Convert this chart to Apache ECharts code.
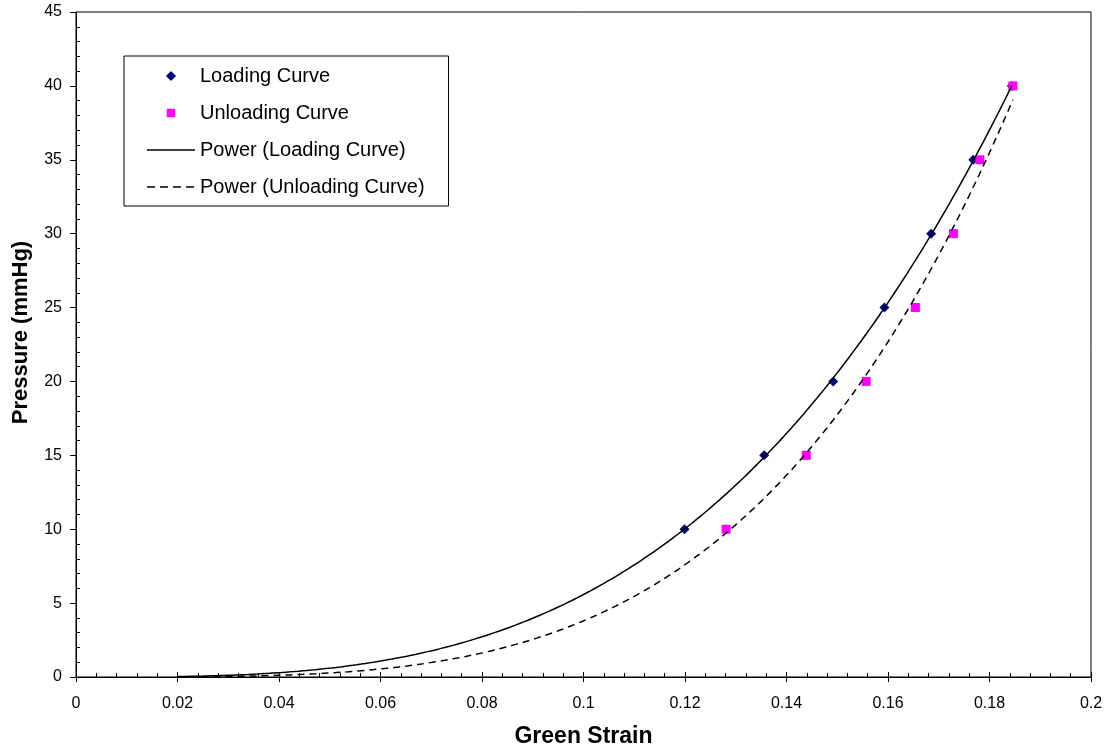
<!DOCTYPE html>
<html>
<head>
<meta charset="utf-8">
<script src="https://cdn.jsdelivr.net/npm/echarts@6/dist/echarts.min.js"></script>
<style>html,body{margin:0;padding:0;background:#fff}#chart{width:1107px;height:748px}</style>
</head>
<body>
<div id="chart"></div>
<script>
// ---- data ----
var loadingStrain = [0.1199, 0.1356, 0.1492, 0.1593, 0.1685, 0.1768, 0.1844];
var loadingPressure = [10, 15, 20, 25, 30, 35, 40];
var unloadingStrain = [0.1281, 0.1439, 0.1557, 0.1654, 0.1729, 0.1781, 0.1846];
var unloadingPressure = [10, 15, 20, 25, 30, 35, 40];
var seriesNames = ['Loading Curve', 'Unloading Curve', 'Power (Loading Curve)', 'Power (Unloading Curve)'];
var xTitle = 'Green Strain';
var yTitle = 'Pressure (mmHg)';
var trendStart = 0.02; // trendlines are drawn back to this strain

// power regression (y = a*x^b), least squares on logs, as the trendline does
function powerFit(xs, ys) {
  var n = xs.length, sx = 0, sy = 0, sxx = 0, sxy = 0;
  for (var i = 0; i < n; i++) {
    var lx = Math.log(xs[i]), ly = Math.log(ys[i]);
    sx += lx; sy += ly; sxx += lx * lx; sxy += lx * ly;
  }
  var b = (n * sxy - sx * sy) / (n * sxx - sx * sx);
  var a = Math.exp((sy - b * sx) / n);
  return { a: a, b: b };
}
function trendPoints(xs, ys) {
  var f = powerFit(xs, ys);
  var xmax = Math.max.apply(null, xs);
  var pts = [];
  var steps = 200;
  for (var i = 0; i <= steps; i++) {
    var x = trendStart + (xmax - trendStart) * i / steps;
    pts.push([x, f.a * Math.pow(x, f.b)]);
  }
  return pts;
}
function pairs(xs, ys) { return xs.map(function (x, i) { return [x, ys[i]]; }); }

var FONT = 'Arial, "Liberation Sans", sans-serif';
var chart = echarts.init(document.getElementById('chart'), null, { renderer: 'canvas' });

var xBase = { type: 'value', min: 0, max: 0.2, interval: 0.02, gridIndex: 0 };
var yBase = { type: 'value', min: 0, max: 45, interval: 5, gridIndex: 0 };

chart.setOption({
  animation: false,
  backgroundColor: '#fff',
  grid: { left: 76, top: 12, width: 1015, height: 665, containLabel: false, outerBoundsMode: 'none',
          show: true, borderColor: '#000', borderWidth: 1, backgroundColor: 'transparent' },
  legend: {
    orient: 'vertical', left: 124, top: 56,
    padding: [10, 24, 9, 23], itemGap: 17, itemWidth: 48, itemHeight: 10,
    borderColor: '#000', borderWidth: 1, backgroundColor: '#fff', borderRadius: 0,
    textStyle: { fontFamily: FONT, fontSize: 20, color: '#000' },
    data: [
      { name: seriesNames[0], icon: 'path://M0,0M48,10M24,0L29,5L24,10L19,5Z', itemStyle: { color: '#000080', opacity: 1 } },
      { name: seriesNames[1], icon: 'path://M0,0M48,10M19.8,0.8L28.2,0.8L28.2,9.2L19.8,9.2Z', itemStyle: { color: '#FF00FF', opacity: 1 } },
      { name: seriesNames[2], icon: 'path://M0,0M48,10M0,4.25L48,4.25L48,5.75L0,5.75Z', itemStyle: { color: '#000' } },
      { name: seriesNames[3], icon: 'path://M0,0M48,10M0,4.25L8,4.25L8,5.75L0,5.75ZM13,4.25L21,4.25L21,5.75L13,5.75ZM26,4.25L34,4.25L34,5.75L26,5.75ZM39,4.25L47,4.25L47,5.75L39,5.75Z', itemStyle: { color: '#000' } }
    ]
  },
  xAxis: [
    Object.assign({}, xBase, {
      position: 'bottom',
      name: xTitle, nameLocation: 'middle', nameGap: 48,
      nameTextStyle: { fontFamily: FONT, fontSize: 23, fontWeight: 'bold', color: '#000' },
      axisLine: { show: true, lineStyle: { color: '#000', width: 1 } },
      axisTick: { show: true, inside: true, length: 5, lineStyle: { color: '#000' } },
      minorTick: { show: true, splitNumber: 5, length: 4, lineStyle: { color: '#000' } },
      splitLine: { show: false },
      axisLabel: { fontFamily: FONT, fontSize: 16, color: '#000', margin: 19 }
    }),
    Object.assign({}, xBase, {
      position: 'bottom', offset: 0,
      axisLine: { show: false },
      axisTick: { show: true, inside: false, length: 5, lineStyle: { color: '#000' } },
      splitLine: { show: false },
      axisLabel: { show: false }
    })
  ],
  yAxis: [
    Object.assign({}, yBase, {
      position: 'left',
      name: yTitle, nameLocation: 'middle', nameGap: 44,
      nameTextStyle: { fontFamily: FONT, fontSize: 22, fontWeight: 'bold', color: '#000', padding: [0, 0, 0, 24] },
      axisLine: { show: true, lineStyle: { color: '#000', width: 1 } },
      axisTick: { show: true, inside: false, length: 6, lineStyle: { color: '#000' } },
      splitLine: { show: false },
      axisLabel: { fontFamily: FONT, fontSize: 16, color: '#000', margin: 14 }
    }),
    Object.assign({}, yBase, {
      position: 'left', offset: 0,
      axisLine: { show: false },
      axisTick: { show: false, inside: true },
      minorTick: { show: true, splitNumber: 5, length: 4, lineStyle: { color: '#000' } },
      splitLine: { show: false },
      axisLabel: { show: false }
    })
  ],
  series: [
    {
      name: seriesNames[0], type: 'scatter', xAxisIndex: 0, yAxisIndex: 0,
      symbol: 'diamond', symbolSize: 10,
      itemStyle: { color: '#000080', opacity: 1 },
      data: pairs(loadingStrain, loadingPressure)
    },
    {
      name: seriesNames[1], type: 'scatter', xAxisIndex: 0, yAxisIndex: 0,
      symbol: 'rect', symbolSize: 9,
      itemStyle: { color: '#FF00FF', opacity: 1 },
      data: pairs(unloadingStrain, unloadingPressure)
    },
    {
      name: seriesNames[2], type: 'line', xAxisIndex: 0, yAxisIndex: 0,
      symbol: 'none', showSymbol: false, smooth: false,
      lineStyle: { color: '#000', width: 1.5, type: 'solid' },
      itemStyle: { color: '#000' },
      data: trendPoints(loadingStrain, loadingPressure)
    },
    {
      name: seriesNames[3], type: 'line', xAxisIndex: 0, yAxisIndex: 0,
      symbol: 'none', showSymbol: false, smooth: false,
      lineStyle: { color: '#000', width: 1.5, type: [7, 5] },
      itemStyle: { color: '#000' },
      data: trendPoints(unloadingStrain, unloadingPressure)
    }
  ]
});
</script>
</body>
</html>
